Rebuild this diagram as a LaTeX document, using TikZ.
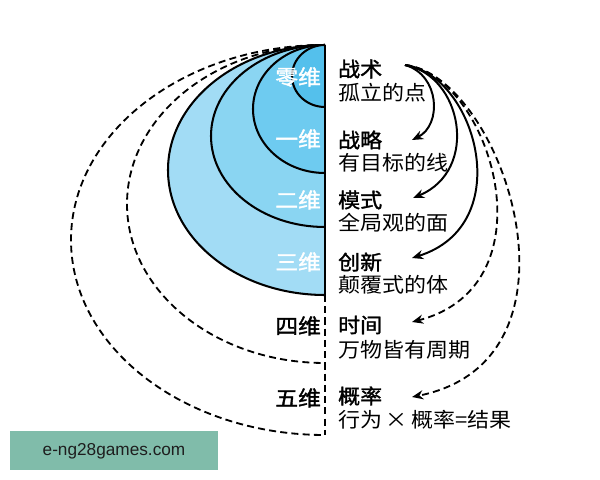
\documentclass[tikz,border=0pt]{standalone}
\usepackage{graphicx}
\usepackage{fontspec}
\setmainfont{Liberation Sans}
\newfontfamily\cjk{Noto Sans CJK SC}
\newfontfamily\cjkb[FakeBold=1.5]{Noto Sans CJK SC}
\usetikzlibrary{arrows.meta}
\definecolor{czero}{RGB}{84,192,236}
\definecolor{cone}{RGB}{110,203,240}
\definecolor{ctwo}{RGB}{138,213,242}
\definecolor{cthree}{RGB}{162,220,245}
\definecolor{wmbg}{RGB}{128,188,170}
\definecolor{wmtx}{RGB}{30,30,30}
\newcommand\hsq[1]{\scalebox{1.08}[1]{#1}}
\begin{document}
\begin{tikzpicture}[x=0.05cm,y=-0.05cm,
  solidln/.style={draw=black,line width=2.9pt},
  dashln/.style={draw=black,line width=2.6pt,dash pattern=on 10pt off 6pt},
  arr/.style={line width=2.8pt,-{Stealth[length=16pt,width=13pt]}},
  lbl/.style={anchor=east,inner sep=0,font=\cjkb\fontsize{30}{32}\selectfont},
  ttl/.style={anchor=west,inner sep=0,font=\cjkb\fontsize{29}{31}\selectfont},
  subt/.style={anchor=west,inner sep=0,font=\cjk\fontsize{29}{31}\selectfont},
]
\useasboundingbox (0,0) rectangle (600,480);
\fill[white] (0,0) rectangle (600,480);

% nested half-ellipses
\path[fill=cthree,solidln] (325,45) arc[start angle=-90,end angle=-270,x radius=157,y radius=125];
\path[fill=ctwo,solidln] (325,45) arc[start angle=-90,end angle=-270,x radius=114,y radius=91];
\path[fill=cone,solidln] (325,45) arc[start angle=-90,end angle=-270,x radius=72,y radius=64];
\path[fill=czero,solidln] (325,45) arc[start angle=-90,end angle=-270,x radius=33,y radius=31];
\draw[dashln] (325,45) arc[start angle=-90,end angle=-270,x radius=198,y radius=159];
\draw[dashln] (325,45) arc[start angle=-90,end angle=-270,x radius=254,y radius=195];

% axis
\draw[solidln] (325,45) -- (325,295);
\draw[dashln] (325,295) -- (325,435);

% left labels
\node[lbl,white] (l0) at (321,77) {\hsq{零维}};
\node[lbl,white] (l1) at (321,139) {\hsq{一维}};
\node[lbl,white] (l2) at (321,200) {\hsq{二维}};
\node[lbl,white] (l3) at (321,262) {\hsq{三维}};
\node[lbl,black] (l4) at (321,326) {\hsq{四维}};
\node[lbl,black] (l5) at (321,398) {\hsq{五维}};

% right texts
\node[ttl] (t0) at (338,69) {\hsq{战术}};
\node[subt] (s0) at (338,93) {\hsq{孤立的点}};
\node[ttl] (t1) at (338,140) {\hsq{战略}};
\node[subt] (s1) at (338,163) {\hsq{有目标的线}};
\node[ttl] (t2) at (338,200) {\hsq{模式}};
\node[subt] (s2) at (338,223) {\hsq{全局观的面}};
\node[ttl] (t3) at (338,262) {\hsq{创新}};
\node[subt] (s3) at (338,285) {\hsq{颠覆式的体}};
\node[ttl] (t4) at (338,325) {\hsq{时间}};
\node[subt] (s4) at (338,350) {\hsq{万物皆有周期}};
\node[ttl] (t5) at (338,396) {\hsq{概率}};
\node[subt] (s5) at (338,420) {\hsq{行为\,×\,概率=结果}};

% arrows
\coordinate (src) at (405,65);
\coordinate (e1) at (412,140);
\coordinate (e2) at (413,198);
\coordinate (e3) at (412,258);
\coordinate (e4) at (412,322);
\coordinate (e5) at (412,397);
\draw[arr] (src) .. controls (440,75) and (442,125) .. (e1);
\draw[arr] (src) .. controls (462,75) and (480,170) .. (e2);
\draw[arr] (src) .. controls (476,75) and (518,225) .. (e3);
\draw[arr,dash pattern=on 10pt off 6pt,line width=2.6pt] (src) .. controls (490,75) and (555,285) .. (e4);
\draw[arr,dash pattern=on 10pt off 6pt,line width=2.6pt] (src) .. controls (502,75) and (598,360) .. (e5);

% watermark
\fill[wmbg] (10,431) rectangle (218,470);
\node[inner sep=0,text=wmtx,font=\fontsize{24.5}{26}\selectfont] (wm) at (114,451) {e-ng28games.com};
\end{tikzpicture}
\end{document}
